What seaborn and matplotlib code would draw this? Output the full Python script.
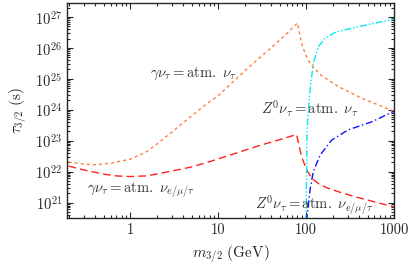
import numpy as np
import seaborn as sns
import matplotlib
matplotlib.use('Agg')
import matplotlib.pyplot as plt
from matplotlib.ticker import LogLocator, FixedLocator, FixedFormatter, NullFormatter

# gravitino mass (GeV) and log10 of lifetime (s)
m_gnu_tau = [0.2, 0.3, 0.4, 0.6, 1.0, 1.5, 2.0, 3.0, 5.0, 7.5, 10, 20, 40, 60, 80,
             89, 97.5, 111, 145, 233, 430, 1000]
lt_gnu_tau = [22.31, 22.24, 22.22, 22.27, 22.40, 22.62, 22.88, 23.28, 23.80, 24.20, 24.45,
              25.25, 26.00, 26.45, 26.80, 26.15, 25.82, 25.50, 25.13, 24.75, 24.37, 23.95]

m_gnu_all = [0.2, 0.3, 0.5, 0.7, 1.0, 1.5, 2.0, 3.0, 5.0, 8.0, 15, 30, 50, 78,
             89, 102, 116, 140, 179, 250, 360, 600, 1000]
lt_gnu_all = [22.18, 22.05, 21.92, 21.86, 21.84, 21.86, 21.92, 22.02, 22.15, 22.32, 22.57,
              22.85, 23.03, 23.20, 22.48, 22.05, 21.79, 21.60, 21.46, 21.32, 21.19, 21.02, 20.86]

m_znu_tau = [100.2, 101.5, 102.5, 104.5, 111, 121, 138, 164, 214, 360, 1000]
lt_znu_tau = [20.4, 22.0, 23.2, 23.7, 24.63, 25.5, 26.04, 26.31, 26.5, 26.66, 26.93]

m_znu_all = [101.5, 111, 121, 145, 196, 302, 560, 1000]
lt_znu_all = [20.4, 21.41, 22.0, 22.54, 23.02, 23.35, 23.61, 23.95]

xticks = [1, 10, 100, 1000]
xticklabels = ['1', '10', '100', '1000']
yticks = [1e21, 1e22, 1e23, 1e24, 1e25, 1e26, 1e27]
yticklabels = [r'$10^{21}$', r'$10^{22}$', r'$10^{23}$', r'$10^{24}$',
               r'$10^{25}$', r'$10^{26}$', r'$10^{27}$']

sns.set_style('ticks')
plt.rcParams['mathtext.fontset'] = 'cm'
plt.rcParams['font.family'] = ['cmr10', 'DejaVu Serif']
plt.rcParams['axes.formatter.use_mathtext'] = True

fig = plt.figure(figsize=(4.19, 2.69), dpi=100)
ax = fig.add_axes([67 / 419, 1 - 218 / 269, 327 / 419, 215 / 269])

sns.lineplot(x=m_gnu_tau, y=10 ** np.array(lt_gnu_tau), ax=ax, color='#ff7f3f',
             lw=1.0, linestyle=(0, (2.2, 2.2)), sort=False, estimator=None)
sns.lineplot(x=m_gnu_all, y=10 ** np.array(lt_gnu_all), ax=ax, color='#ff2020',
             lw=1.0, linestyle=(0, (5.5, 3)), sort=False, estimator=None)
sns.lineplot(x=m_znu_tau, y=10 ** np.array(lt_znu_tau), ax=ax, color='#00e8f0',
             lw=1.0, linestyle=(0, (5, 1.5, 1, 1.5, 1, 1.5)), sort=False, estimator=None)
sns.lineplot(x=m_znu_all, y=10 ** np.array(lt_znu_all), ax=ax, color='#1010ff',
             lw=1.0, linestyle=(0, (5, 2, 1, 2)), sort=False, estimator=None)

ax.set_xscale('log')
ax.set_yscale('log')
ax.set_xlim(0.192, 1000)
ax.set_ylim(10 ** 20.5, 10 ** 27.45)

ax.xaxis.set_major_locator(FixedLocator(xticks))
ax.xaxis.set_major_formatter(FixedFormatter(xticklabels))
ax.xaxis.set_minor_locator(LogLocator(base=10, subs=np.arange(2, 10), numticks=20))
ax.xaxis.set_minor_formatter(NullFormatter())
ax.yaxis.set_major_locator(FixedLocator(yticks))
ax.yaxis.set_major_formatter(FixedFormatter(yticklabels))
ax.yaxis.set_minor_locator(LogLocator(base=10, subs=np.arange(2, 10), numticks=30))
ax.yaxis.set_minor_formatter(NullFormatter())
ax.tick_params(which='both', direction='in', top=True, right=True, labelsize=10.5, width=0.8)
ax.tick_params(which='major', length=4.5)
ax.tick_params(which='minor', length=2.2)
for s in ax.spines.values():
    s.set_linewidth(1.0)

ax.set_xlabel(r'$m_{3/2}\ \mathrm{(GeV)}$', fontsize=11, labelpad=5)
ax.set_ylabel(r'$\tau_{3/2}\ \mathrm{(s)}$', fontsize=11, labelpad=4)

tc = '#333333'
ax.text(0.388, 0.67, r'$\gamma\nu_\tau = \mathrm{atm.}\ \nu_\tau$', transform=ax.transAxes,
        ha='center', va='center', fontsize=10.5, color=tc)
ax.text(0.743, 0.51, r'$Z^0\nu_\tau = \mathrm{atm.}\ \nu_\tau$', transform=ax.transAxes,
        ha='center', va='center', fontsize=10.5, color=tc)
ax.text(0.226, 0.13, r'$\gamma\nu_\tau = \mathrm{atm.}\ \nu_{e/\mu/\tau}$', transform=ax.transAxes,
        ha='center', va='center', fontsize=10.5, color=tc)
ax.text(0.755, 0.06, r'$Z^0\nu_\tau = \mathrm{atm.}\ \nu_{e/\mu/\tau}$', transform=ax.transAxes,
        ha='center', va='center', fontsize=10.5, color=tc)

fig.savefig('out.png', dpi=100)
